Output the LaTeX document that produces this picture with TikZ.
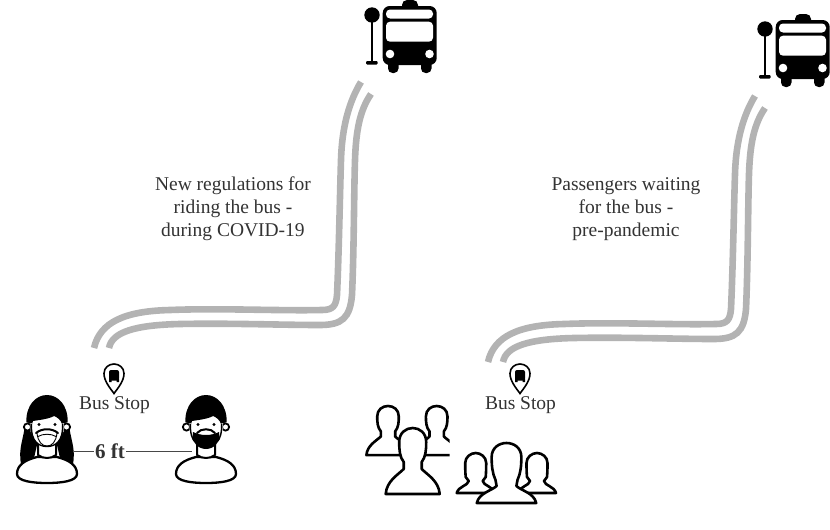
\documentclass[tikz,border=0pt]{standalone}
\usepackage{fontspec}
\setmainfont{Liberation Serif}
\definecolor{roadgray}{HTML}{B3B3B3}
\definecolor{inkgray}{HTML}{333333}
\tikzset{
  road/.style={draw=roadgray,line width=6.6pt},
  caption/.style={text=inkgray,font=\fontsize{19.5}{23}\selectfont,align=center,inner sep=0pt},
  outline/.style={draw=black,line width=2.6pt,fill=white,line join=round},
  spacing/.style={draw=inkgray!90,line width=1.1pt},
  pics/route/.style={code={
    \draw[road] (94,348) .. controls (100,322) and (125,311) .. (170,310)
      .. controls (220,308) and (280,311) .. (322,310)
      .. controls (333,310) and (336,306) .. (337,295)
      .. controls (339,250) and (340,190) .. (341,160)
      .. controls (342,125) and (350,100) .. (361,82);
    \draw[road] (109,348) .. controls (112,332) and (135,325) .. (180,324)
      .. controls (230,323) and (280,325) .. (320,325)
      .. controls (342,325) and (350,318) .. (352,295)
      .. controls (354,250) and (354,190) .. (355,160)
      .. controls (356,130) and (360,110) .. (371,94);
  }},
  pics/busstand/.style={code={
    \fill (372,15) circle (7.7);
    \fill (370.8,15) rectangle (373.2,62);
    \fill[rounded corners=1pt] (366,61) rectangle (377.5,64.5);
    \fill[rounded corners=5pt] (402,0) rectangle (418,12);
    \fill[rounded corners=4.5pt] (388,58) rectangle (398.5,73);
    \fill[rounded corners=4.5pt] (421,58) rectangle (431.5,73);
    \fill[rounded corners=7pt] (382.7,6) rectangle (436.7,65);
    \fill[white,rounded corners=4pt] (386,9.5) rectangle (433,18.5);
    \fill[white,rounded corners=4pt] (386,21.7) rectangle (433,41.7);
    \fill[white] (390,54) circle (4.3) (429.5,54) circle (4.3);
  }},
  pics/stoppin/.style={code={
    \draw[draw=black,line width=1.6pt,fill=white] (0,29.5)
      .. controls (-4,24) and (-10,17) .. (-10,9.5)
      .. controls (-10,3.5) and (-5,0) .. (0,0)
      .. controls (5,0) and (10,3.5) .. (10,9.5)
      .. controls (10,17) and (4,24) .. (0,29.5) -- cycle;
    \fill[rounded corners=2pt] (-5,6) rectangle (5,16.5);
    \fill (-5,15) rectangle (-2.5,18) (2.5,15) rectangle (5,18);
  }},
  % head-and-shoulders outline, origin at the top of the head
  pics/bust/.style={code={
    \path[outline] (-27,66) .. controls (-26,53) and (-15,47) .. (-9,41)
      -- (-9,34) .. controls (-13,29) and (-13.5,22) .. (-13.5,14)
      .. controls (-13.5,5) and (-7,0) .. (0,0)
      .. controls (7,0) and (13.5,5) .. (13.5,14)
      .. controls (13.5,22) and (13,29) .. (9,34)
      -- (9,41) .. controls (15,47) and (26,53) .. (27,66) -- cycle;
  }},
  % taller head on short flared shoulders
  pics/slimbust/.style={code={
    \path[outline] (-27,60) .. controls (-25,50) and (-14,48) .. (-9,43)
      -- (-10,37) .. controls (-13,30) and (-13.5,22) .. (-13.5,14)
      .. controls (-13.5,5) and (-7,0) .. (0,0)
      .. controls (7,0) and (13.5,5) .. (13.5,14)
      .. controls (13.5,22) and (13,30) .. (10,37)
      -- (9,43) .. controls (14,48) and (25,50) .. (27,60) -- cycle;
  }},
  % smaller figure at the sides of the second group
  pics/sidebust/.style={code={
    \path[outline] (-19,40) .. controls (-17,33) and (-8,33) .. (-7,28)
      -- (-10,24) .. controls (-10.5,18) and (-10.5,14) .. (-10.5,10)
      .. controls (-10.5,4) and (-5,0) .. (0,0)
      .. controls (5,0) and (10.5,4) .. (10.5,10)
      .. controls (10.5,14) and (10.5,18) .. (10,24)
      -- (7,28) .. controls (8,33) and (17,33) .. (19,40) -- cycle;
  }},
  % shoulders and neck shared by both masked figures
  pics/torso/.style={code={
    \path[outline,line width=2.3pt] (-10,62) .. controls (-22,65) and (-30,70) .. (-30,79)
      .. controls (-30,86) and (-15,88) .. (0,88)
      .. controls (15,88) and (30,86) .. (30,79)
      .. controls (30,70) and (22,65) .. (10,62) -- cycle;
    \path[outline,line width=2pt] (-9,48) -- (-9,60) .. controls (-4,64) and (4,64) .. (9,60) -- (9,48) -- cycle;
  }},
  pics/head/.style={code={
    \fill[white] (-15,22) -- (15,22) -- (16,34) .. controls (15,46) and (7,52.5) .. (0,52.5)
      .. controls (-7,52.5) and (-15,46) .. (-16,34) -- cycle;
    \fill (-20.7,27) .. controls (-21,10) and (-11,0) .. (0,0)
      .. controls (11,0) and (21,10) .. (20.7,27)
      -- (15,29) .. controls (14,25) and (10,22) .. (7,21)
      .. controls (2,24) and (-8,25) .. (-14,26) -- (-15,29) -- cycle;
    \path[draw=black,fill=white,line width=1.8pt] (-19.5,32) circle (3.6) (19.5,32) circle (3.6);
    \fill[white] (-15.5,28) rectangle (-16.5,37) (15.5,28) rectangle (16.5,37);
    \fill (-8,29.5) circle (1.6) (8,29.5) circle (1.6);
  }},
  pics/faceguard/.style={code={
    \draw[line width=1.4pt] (-15.5,29) .. controls (-16,38) and (-14,44) .. (-11,47)
      .. controls (-6,53) and (6,53) .. (11,47)
      .. controls (14,44) and (16,38) .. (15.5,29);
    \draw[line width=2pt,line cap=round] (-11,38) .. controls (-5,33) and (5,33) .. (11,38);
    \draw[line width=.9pt] (-10,38) .. controls (-9,47) and (-5,51) .. (0,51)
      .. controls (5,51) and (9,47) .. (10,38);
    \draw[line width=.9pt] (-9,41.5) .. controls (-4,38.5) and (4,38.5) .. (9,41.5);
  }},
  pics/beard/.style={code={
    \draw[line width=1.4pt] (-15.5,29) .. controls (-16,38) and (-14,44) .. (-11,47);
    \draw[line width=1.4pt] (15.5,29) .. controls (16,38) and (14,44) .. (11,47);
    \fill (-13,37) .. controls (-5,41) and (5,41) .. (13,37)
      .. controls (15,47) and (8,54) .. (0,54)
      .. controls (-8,54) and (-15,47) .. (-13,37) -- cycle;
    \draw[line width=2pt,line cap=round] (-9,38) .. controls (-5,33) and (5,33) .. (9,38);
  }},
}
\begin{document}
\begin{tikzpicture}[x=1pt,y=-1pt]
\useasboundingbox (0,0) rectangle (830,530);

% routes and vehicles
\pic at (0,0) {route};
\pic at (394,14) {route};
\pic at (0,0) {busstand};
\pic at (393,14) {busstand};

% captions
\node[caption] (rulesnote) at (233,209) {New regulations for\\riding the bus -\\during COVID-19};
\node[caption] (waitnote) at (626,209) {Passengers waiting\\for the bus -\\pre-pandemic};
\node[caption] (stopa) at (114.5,405) {Bus Stop};
\node[caption] (stopb) at (520.5,405) {Bus Stop};
\pic at (114,364) {stoppin};
\pic at (520,364) {stoppin};

% distanced figures: hair first, then body, head and face covering
\fill (25,424) .. controls (24,438) and (18,448) .. (21,464) -- (34,458)
  -- (37,445) -- (57,445) -- (60,458) -- (73,464)
  .. controls (76,448) and (70,438) .. (69,424) -- cycle;
\pic at (47,395) {torso};
\pic at (47,395) {head};
\pic at (47,395) {faceguard};

\coordinate (womanside) at (73.5,451.5);
\coordinate (manside) at (192,451.5);
\node[text=inkgray,font=\fontsize{21}{22}\selectfont\bfseries,inner sep=1pt] (gap) at (110,451.5) {6 ft};
\draw[spacing] (womanside) -- (gap);
\draw[spacing] (gap) -- (manside);

\pic at (206,395) {torso};
\pic at (206,395) {head};
\pic at (206,395) {beard};

% waiting crowd, rear figures cut off along the right edge
\begin{scope}
  \clip (360,400) rectangle (449.5,460);
  \pic[xscale=.8,yscale=.745] at (388,406) {bust};
  \pic[xscale=.8,yscale=.745] at (436.7,406) {bust};
\end{scope}
\pic at (412.7,428) {bust};

\pic at (475.7,453) {sidebust};
\pic at (537,453) {sidebust};
\pic[xscale=1.1] at (506.5,443) {slimbust};
\end{tikzpicture}
\end{document}
